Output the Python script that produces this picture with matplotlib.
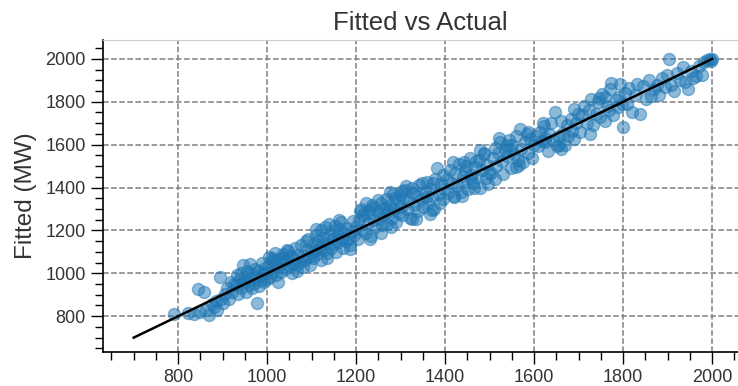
import numpy as np
import matplotlib.pyplot as plt
from matplotlib.ticker import MultipleLocator

# actual vs fitted load (MW)
actual = [
    790, 822, 835, 845, 850, 858, 862, 870, 875, 880, 885, 888, 893, 896, 900,
    905, 910, 915, 918, 922, 925, 930, 932, 935, 938, 940, 942, 945, 948, 950, 952, 955, 958,
    960, 962, 965, 968, 970, 972, 975, 978, 980, 982, 985, 988, 990, 992, 995, 997, 1000,
    1003, 1006, 1010, 1012, 1015, 1018, 1020, 1024, 1027, 1030, 1033, 1036, 1040, 1043, 1046,
    1050, 1053, 1056, 1060, 1063, 1066, 1070, 1073, 1076, 1080, 1083, 1086, 1090, 1093, 1096,
    1100, 1012, 1035, 1058, 1088,
    1103, 1106, 1108, 1110, 1113, 1115, 1118, 1120, 1122, 1125, 1128, 1130, 1133, 1135, 1138,
    1140, 1143, 1145, 1148, 1150, 1153, 1155, 1158, 1160, 1163, 1165, 1168, 1170, 1173, 1176,
    1180, 1183, 1186, 1190, 1193, 1196, 1200, 1120,
    1203, 1206, 1210, 1213, 1216, 1220, 1223, 1226, 1230, 1233, 1236, 1240, 1243, 1246, 1250,
    1253, 1256, 1260, 1263, 1266, 1270, 1273, 1276, 1280, 1283, 1286, 1290, 1293, 1296, 1300,
    1215, 1238, 1258, 1275, 1288, 1228, 1268, 1298,
    1303, 1306, 1310, 1314, 1318, 1322, 1326, 1330, 1334, 1338, 1342, 1346, 1350, 1354, 1358,
    1362, 1366, 1370, 1374, 1378, 1382, 1386, 1390, 1394, 1398, 1312, 1335, 1356, 1372, 1388,
    1328, 1365,
    1403, 1407, 1411, 1415, 1419, 1423, 1427, 1431, 1435, 1439, 1443, 1447, 1451, 1455, 1459,
    1463, 1467, 1471, 1475, 1479, 1483, 1487, 1491, 1495, 1499, 1418, 1438, 1458, 1478, 1496,
    1445, 1470,
    1503, 1507, 1511, 1515, 1519, 1523, 1527, 1531, 1535, 1539, 1543, 1547, 1551, 1555, 1559,
    1563, 1567, 1571, 1575, 1579, 1583, 1587, 1591, 1595, 1599, 1520, 1545, 1566,
    1604, 1608, 1612, 1617, 1621, 1625, 1630, 1634, 1638, 1643, 1647, 1651, 1656, 1660, 1664,
    1669, 1673, 1677, 1682, 1686, 1690, 1695, 1699, 1625, 1660,
    1703, 1708, 1713, 1718, 1723, 1728, 1733, 1738, 1743, 1748, 1753, 1758, 1763, 1768, 1773,
    1778, 1783, 1788, 1793, 1798, 1770, 1790,
    1803, 1808, 1814, 1820, 1826, 1832, 1838, 1845, 1851, 1857, 1863, 1869, 1875, 1881, 1887,
    1893, 1899, 1800,
    1902, 1908, 1915, 1921, 1927, 1934, 1940, 1946, 1952, 1957, 1963, 1970, 1976, 1982, 1988,
    1994, 1998, 2000,
    1005, 1025, 1045, 1068, 1092, 1110, 1135, 1162, 1185, 1208, 1232, 1255, 1278, 1302, 1325,
    1348, 1370, 1395, 1420, 1442, 1465, 1488, 1512, 1538, 1560, 1585, 1620, 1655, 1690, 1725,
    1760, 1745,
]
fitted = [
    812, 815, 810, 925, 818, 912, 830, 805, 855, 842, 870, 830, 985, 880, 860,
    905, 930, 880, 960, 915, 950, 945, 990, 905, 975, 1000, 930, 1040, 960, 985, 915, 1010, 945,
    970, 1045, 930, 995, 955, 1020, 985, 860, 1010, 940, 970, 1050, 995, 960, 1025, 1000, 975,
    1040, 985, 1070, 1010, 1050, 1095, 990, 1030, 1065, 1005, 1050, 1090, 1020, 1060, 1105,
    1035, 1080, 1000, 1060, 1120, 1040, 1085, 1055, 1130, 1030, 1080, 1060, 1110, 1075, 1040,
    1100, 1060, 1075, 1045, 1150,
    1070, 1140, 1110, 1180, 1090, 1150, 1125, 1200, 1060, 1165, 1110, 1215, 1140, 1095, 1175,
    1230, 1120, 1160, 1195, 1135, 1220, 1100, 1180, 1145, 1205, 1240, 1160, 1120, 1190, 1150,
    1210, 1165, 1130, 1195, 1245, 1180, 1215, 1120,
    1160, 1250, 1300, 1200, 1265, 1190, 1330, 1235, 1280, 1175, 1320, 1250, 1215, 1290, 1340,
    1255, 1190, 1300, 1270, 1345, 1230, 1290, 1320, 1260, 1370, 1300, 1240, 1335, 1280, 1310,
    1275, 1310, 1225, 1380, 1350, 1295, 1305, 1365,
    1270, 1350, 1390, 1300, 1335, 1260, 1400, 1320, 1365, 1290, 1410, 1345, 1310, 1380, 1425,
    1330, 1395, 1360, 1300, 1440, 1490, 1370, 1415, 1345, 1395, 1405, 1255, 1355, 1420, 1330,
    1375, 1275,
    1440, 1375, 1480, 1420, 1355, 1470, 1410, 1510, 1380, 1455, 1430, 1500, 1395, 1540, 1460,
    1420, 1495, 1450, 1530, 1400, 1480, 1560, 1445, 1505, 1470, 1520, 1360, 1445, 1575, 1415,
    1480, 1525,
    1470, 1540, 1585, 1500, 1560, 1610, 1525, 1465, 1575, 1545, 1620, 1490, 1600, 1555, 1640,
    1530, 1674, 1580, 1520, 1610, 1650, 1560, 1625, 1540, 1600, 1630, 1580, 1505,
    1640, 1595, 1660, 1615, 1685, 1630, 1570, 1650, 1700, 1620, 1750, 1595, 1640, 1710, 1655,
    1600, 1690, 1640, 1720, 1665, 1625, 1700, 1745, 1610, 1580,
    1660, 1740, 1780, 1700, 1760, 1815, 1690, 1745, 1800, 1730, 1835, 1710, 1780, 1760, 1888,
    1740, 1810, 1775, 1884, 1790, 1860, 1820,
    1840, 1790, 1865, 1750, 1830, 1885, 1745, 1874, 1815, 1900, 1828, 1860, 1880, 1830, 1910,
    1870, 1925, 1684,
    2000, 1880, 1851, 1935, 1900, 1960, 1890, 1860, 1945, 1912, 1920, 1965, 1925, 1985, 1995,
    2000, 1990, 1998,
    1075, 960, 1110, 1010, 1160, 1205, 1070, 1250, 1115, 1290, 1160, 1330, 1215, 1385, 1255,
    1420, 1295, 1460, 1360, 1520, 1400, 1555, 1440, 1600, 1495, 1660, 1700, 1600, 1765, 1650,
    1820, 1819,
]
ref_line = [700, 2000]

fig = plt.figure(figsize=(7.38, 3.86), dpi=100)
ax = fig.add_axes([103 / 738, 34 / 386, 635 / 738, 312 / 386])

ax.grid(True, which="major", linestyle="--", color="#808080", linewidth=1.1, zorder=0)
ax.scatter(actual, fitted, s=75, color="#1f77b4", alpha=0.5, linewidths=1, zorder=2)
ax.plot(ref_line, ref_line, color="black", linewidth=1.8, zorder=3)

ax.set_xlim(631, 2058)
ax.set_ylim(633, 2088)
ax.xaxis.set_major_locator(MultipleLocator(200))
ax.xaxis.set_minor_locator(MultipleLocator(50))
ax.yaxis.set_major_locator(MultipleLocator(200))
ax.yaxis.set_minor_locator(MultipleLocator(50))
ax.tick_params(which="major", length=8.5, width=1, direction="out", pad=4,
               labelsize=13, labelcolor="#333333")
ax.tick_params(which="minor", length=6, width=1, direction="out")

ax.spines["right"].set_visible(False)
ax.spines["top"].set_color("#cccccc")
ax.spines["left"].set_linewidth(1.2)
ax.spines["bottom"].set_linewidth(1.2)

ax.set_title("Fitted vs Actual", fontsize=18.5, color="#333333", family="Liberation Sans", pad=7)
ax.set_ylabel("Fitted (MW)", fontsize=17.5, color="#333333", family="Liberation Sans", labelpad=6)
for lbl in ax.get_xticklabels() + ax.get_yticklabels():
    lbl.set_family("Liberation Sans")

fig.savefig("out.png", dpi=100)
